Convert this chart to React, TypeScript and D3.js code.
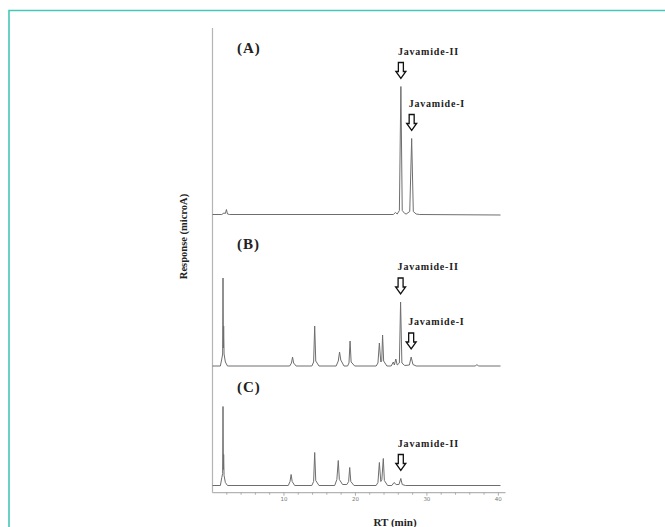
import * as React from 'react'
import { useEffect, useRef } from 'react'
import * as d3 from 'd3'

// RT (min) / response pairs
const traceA: [number, number][] = [
  [0, 0], [1.3, 0], [1.6, 1.5], [1.8, 1], [1.95, 5], [2.1, 0.5], [2.4, 0],
  [25.3, 0], [25.6, 2], [25.85, 0.5], [26.15, 4], [26.36, 128], [26.55, 4], [26.9, 1],
  [27.1, 0.5], [27.6, 3], [27.87, 76], [28.1, 3], [28.5, 0.5], [29, 0], [40.3, -0.5],
]

const traceB: [number, number][] = [
  [0, 0], [1.1, 0], [1.3, 7], [1.42, 12], [1.47, 88], [1.52, 18], [1.56, 40], [1.62, 12], [1.8, 4], [2.1, 0],
  [10.8, 0], [11.05, 3], [11.2, 9], [11.35, 3], [11.7, 0],
  [13.9, 0], [14.15, 4], [14.3, 40], [14.45, 5], [14.9, 0],
  [17.3, 0], [17.6, 5], [17.78, 14], [17.95, 6], [18.4, 0],
  [18.9, 0], [19.1, 3], [19.25, 25], [19.4, 4], [19.9, 0],
  [22.9, 0], [23.15, 3], [23.35, 23], [23.55, 4], [23.68, 5], [23.8, 31], [23.95, 5], [24.4, 0],
  [25.0, 0], [25.3, 4], [25.45, 1], [25.65, 7], [25.85, 1], [26.15, 3], [26.32, 64], [26.5, 3], [26.9, 0.5],
  [27.55, 1], [27.8, 9], [28.05, 1.5], [28.5, 0],
  [36.8, 0], [37.0, 1.5], [37.2, 0], [40.3, 0],
]

const traceC: [number, number][] = [
  [0, 0], [1.1, 0], [1.3, 8], [1.42, 12], [1.47, 79], [1.52, 16], [1.56, 31], [1.62, 10], [1.8, 3], [2.1, 0],
  [10.6, 0], [10.85, 4], [11.0, 11], [11.15, 4], [11.5, 0],
  [13.9, 0], [14.15, 4], [14.3, 33], [14.45, 5], [14.9, 0],
  [17.1, 0], [17.4, 6], [17.6, 25], [17.75, 6], [18.2, 1],
  [18.8, 1], [19.05, 4], [19.2, 18], [19.35, 4], [19.8, 0],
  [22.9, 0], [23.15, 3], [23.35, 23], [23.55, 4], [23.7, 6], [23.9, 27], [24.05, 5], [24.5, 0],
  [25.1, 0], [25.4, 3], [25.7, 1], [26.1, 1], [26.35, 7], [26.55, 1], [27, 0], [40.3, 0],
]

// marked peaks (name, RT, apex response)
const markedA = [
  { name: 'Javamide-II', rt: 26.36, response: 128 },
  { name: 'Javamide-I', rt: 27.87, response: 76 },
]
const markedB = [
  { name: 'Javamide-II', rt: 26.32, response: 64 },
  { name: 'Javamide-I', rt: 27.8, response: 9 },
]
const markedC = [
  { name: 'Javamide-II', rt: 26.35, response: 7 },
]

const panelLabels = ['(A)', '(B)', '(C)']
const majorTicks = [10, 20, 30, 40]
const minorTicks = d3.range(2, 41, 2)

const W = 665
const H = 527
const SERIF = '"Liberation Serif", "Times New Roman", serif'

export default function App() {
  const svgRef = useRef<SVGSVGElement>(null)

  useEffect(() => {
    if (!svgRef.current) return
    const svg = d3.select(svgRef.current)
    svg.selectAll('*').remove()

    // teal frame
    svg.append('path')
      .attr('d', `M9,${H} L9,10.5 L${W},10.5`)
      .attr('fill', 'none')
      .attr('stroke', '#44c8b8')
      .attr('stroke-width', 1.6)

    const x = d3.scaleLinear().domain([0, 41]).range([212.5, 505.5])
    const axisBottomY = 492.7

    const panels = [
      { trace: traceA, marked: markedA, baseline: 214.5, labelY: 53 },
      { trace: traceB, marked: markedB, baseline: 366, labelY: 249 },
      { trace: traceC, marked: markedC, baseline: 485.5, labelY: 392 },
    ]

    // axes
    svg.append('line')
      .attr('x1', x(0)).attr('x2', x(0))
      .attr('y1', 28).attr('y2', axisBottomY)
      .attr('stroke', '#b4b4b4').attr('stroke-width', 1.2)
    svg.append('line')
      .attr('x1', x(0)).attr('x2', x(41))
      .attr('y1', axisBottomY).attr('y2', axisBottomY)
      .attr('stroke', '#b4b4b4').attr('stroke-width', 1.2)

    svg.append('g').selectAll('line')
      .data(minorTicks)
      .join('line')
      .attr('x1', d => x(d)).attr('x2', d => x(d))
      .attr('y1', axisBottomY).attr('y2', d => axisBottomY + (d % 10 === 0 ? 3 : 2))
      .attr('stroke', '#999').attr('stroke-width', 0.8)

    svg.append('g').selectAll('text')
      .data(majorTicks)
      .join('text')
      .attr('x', d => x(d))
      .attr('y', 500.5)
      .attr('text-anchor', 'middle')
      .attr('font-family', 'DejaVu Sans, sans-serif')
      .attr('font-size', 5.5)
      .attr('fill', '#777')
      .text(d => d)

    panels.forEach((p, i) => {
      const y = d3.scaleLinear().domain([0, 130]).range([p.baseline, p.baseline - 130])
      const line = d3.line<[number, number]>()
        .x(d => x(d[0]))
        .y(d => y(d[1]))

      svg.append('path')
        .datum(p.trace)
        .attr('d', line)
        .attr('fill', 'none')
        .attr('stroke', '#6e6e6e')
        .attr('stroke-width', 1)
        .attr('stroke-linejoin', 'round')

      svg.append('text')
        .attr('x', 237)
        .attr('y', p.labelY)
        .attr('font-family', SERIF)
        .attr('font-weight', 'bold')
        .attr('font-size', 15)
        .attr('letter-spacing', 1)
        .attr('fill', '#222')
        .text(panelLabels[i])

      // hollow arrows + peak names
      p.marked.forEach(m => {
        const tipY = y(m.response) - 8
        const cx = x(m.rt)
        svg.append('path')
          .attr('transform', `translate(${cx},${tipY})`)
          .attr('d', 'M-2.5,-16 L2.5,-16 L2.5,-7 L5,-7 L0,0 L-5,-7 L-2.5,-7 Z')
          .attr('fill', '#fff')
          .attr('stroke', '#111')
          .attr('stroke-width', 1.3)
          .attr('stroke-linejoin', 'miter')
        svg.append('text')
          .attr('x', cx - 3)
          .attr('y', tipY - 24)
          .attr('font-family', SERIF)
          .attr('font-weight', 'bold')
          .attr('font-size', 10)
          .attr('letter-spacing', 0.8)
          .attr('fill', '#222')
          .text(m.name)
      })
    })

    // axis titles
    svg.append('text')
      .attr('transform', 'translate(186.5,236.5) rotate(-90)')
      .attr('text-anchor', 'middle')
      .attr('font-family', SERIF)
      .attr('font-weight', 'bold')
      .attr('font-size', 10.5)
      .attr('fill', '#222')
      .text('Response (microA)')

    svg.append('text')
      .attr('x', 395)
      .attr('y', 526)
      .attr('text-anchor', 'middle')
      .attr('font-family', SERIF)
      .attr('font-weight', 'bold')
      .attr('font-size', 11)
      .attr('fill', '#222')
      .text('RT (min)')
  }, [])

  return (
    <svg
      ref={svgRef}
      width={W}
      height={H}
      style={{ position: 'absolute', left: 0, top: 0, background: '#fff' }}
    />
  )
}
